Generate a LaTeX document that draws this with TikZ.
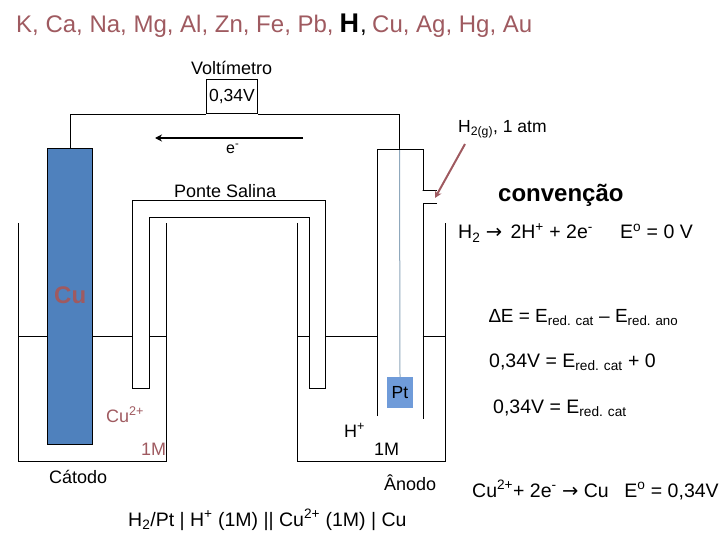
\documentclass[tikz,border=0pt]{standalone}
\usepackage{fontspec}
\setmainfont{Liberation Sans}
\newfontfamily\symbfont{DejaVu Sans}
\usepackage{xcolor}
\definecolor{metal}{HTML}{4F81BD}
\definecolor{platina}{HTML}{6F9BD9}
\definecolor{wirept}{HTML}{8FA8BC}
\definecolor{wine}{HTML}{9F5A60}
\usetikzlibrary{
  arrows.meta,
  positioning
}

\begin{document}
\begin{tikzpicture}[
  x=1pt, y=-1pt,
  lbl/.style={anchor=base west, inner sep=0pt, font=\fontsize{18}{20}\selectfont},
  eqn/.style={lbl, font=\fontsize{19.5}{24}\selectfont},
  chem/.style={lbl, text=wine},
  serie/.style={lbl, font=\fontsize{24}{26}\selectfont},
  glass/.style={line width=1pt, black},
  electrode/.style={rectangle, draw=black, line width=1pt, fill=metal, inner sep=0pt},
  arr/.style={-{Stealth[length=7pt, width=7pt]}, line width=2pt},
]

\useasboundingbox (0,0) rectangle (720,540);

% series
\node[serie, text=wine] (serieA) at (16,33) {K, Ca, Na, Mg, Al, Zn, Fe, Pb,};
\node[lbl, font=\bfseries\fontsize{27}{30}\selectfont] (hidro) at (339.5,33) {H};
\node[serie] (virg) at (360,33) {,};
\node[serie, text=wine] (serieB) at (372,33) {Cu, Ag, Hg, Au};

% voltmeter and wires
\node[lbl] (voltlbl) at (191,75) {Voltímetro};
\node[rectangle, draw=black, line width=1pt, minimum width=51pt, minimum height=34pt, inner sep=0pt, font=\fontsize{17.5}{20}\selectfont] (volt) at (232,97) {0,34V};
\node[electrode, minimum width=45pt, minimum height=295pt] (cu) at (70,296.5) {};
\node[rectangle, fill=platina, minimum width=26pt, minimum height=31pt, inner sep=0pt, font=\fontsize{17.5}{20}\selectfont] (pt) at (400,392.5) {Pt};
\coordinate (hoodtop) at (399.5,149);
\draw[glass] (cu.north) |- (volt.south west);
\draw[glass] (volt.south east) -| (hoodtop);
\draw[line width=1pt, wirept] (hoodtop) -- (pt.north);

% electron flow
\coordinate (eright) at (303,138);
\coordinate (eleft) at (155,138);
\draw[arr] (eright) -- (eleft);
\node[lbl, font=\fontsize{16}{20}\selectfont] (elec) at (226,154) {e\textsuperscript{-}};

% left beaker
\draw[glass] (18.5,223) -- (18.5,461) -- (166,461) -- (166,223);
\draw[glass] (18.5,336) -- (cu.west |- 0,336);
\draw[glass] (cu.east |- 0,336) -- (132.5,336);
\draw[glass] (149.5,336) -- (166,336);

% right beaker
\draw[glass] (297.5,223) -- (297.5,461) -- (445.5,461) -- (445.5,223);
\draw[glass] (297.5,336) -- (309.5,336);
\draw[glass] (325.5,336) -- (377.5,336);
\draw[glass] (422.5,336) -- (445.5,336);

% salt bridge
\draw[glass] (132.5,388) -- (132.5,200.5) -- (325.5,200.5) -- (325.5,388) -- (309.5,388) -- (309.5,217.5) -- (149.5,217.5) -- (149.5,388) -- cycle;

% hood
\draw[glass] (377.5,416) -- (377.5,149.5) -- (423.5,149.5) -- (423.5,190.5) -- (422.5,190.5) -- (437,190.5);
\draw[glass] (437,203.5) -- (423.5,203.5) -- (423.5,419);

% gas inlet
\node[lbl, font=\fontsize{17.5}{20}\selectfont] (gas) at (458,133) {H\textsubscript{2(g)}, 1 atm};
\coordinate (gasfrom) at (465,144);
\coordinate (nozzle) at (435,198);
\draw[arr, wine] (gasfrom) -- (nozzle);

% cell labels
\node[lbl, text=wine, font=\bfseries\fontsize{24}{26}\selectfont] (culbl) at (54,303) {Cu};
\node[chem] (cuion) at (106,422) {Cu\textsuperscript{2+}};
\node[chem] (cuconc) at (141,455) {1M};
\node[lbl] (hion) at (344,437) {H\textsuperscript{+}};
\node[lbl] (hconc) at (374,455) {1M};
\node[lbl] (catodo) at (49,483) {Cátodo};
\node[lbl] (anodo) at (384,490) {Ânodo};
\node[lbl] (ponte) at (174,197) {Ponte Salina};
\node[eqn] (notacao) at (128,526) {H\textsubscript{2}/Pt | H\textsuperscript{+} (1M) || Cu\textsuperscript{2+} (1M) | Cu};

% right column
\node[lbl, font=\bfseries\fontsize{24}{28}\selectfont] (conv) at (498,202) {convenção};
\node[eqn] (semiH) at (458,239) {H\textsubscript{2} {\symbfont →}\hspace{3pt} 2H\textsuperscript{+} + 2e\textsuperscript{-}};
\node[eqn] (eH) at (620,239) {E\textsuperscript{o} = 0 V};
\node[eqn, font=\fontsize{19}{24}\selectfont] (delta) at (489,322) {∆E = E\textsubscript{red. cat} – E\textsubscript{red. ano}};
\node[eqn] (subst) at (489,367) {0,34V = E\textsubscript{red. cat} + 0};
\node[eqn] (result) at (493,413) {0,34V = E\textsubscript{red. cat}};
\node[eqn] (semiCu) at (472,497) {Cu\textsuperscript{2+}+ 2e\textsuperscript{-} {\symbfont →} Cu\hspace{0.8em}E\textsuperscript{o} = 0,34V};

\end{tikzpicture}
\end{document}
